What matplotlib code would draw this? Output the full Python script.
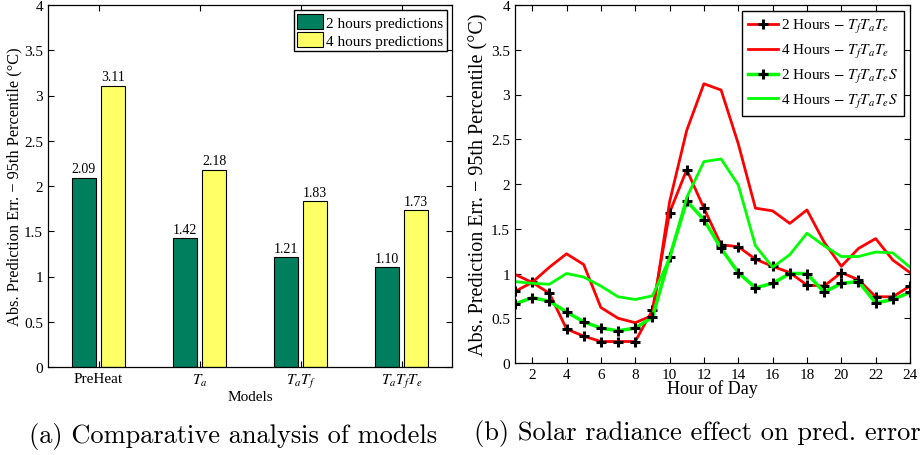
import matplotlib
matplotlib.use("Agg")
import matplotlib.pyplot as plt
import numpy as np

plt.rcParams["font.family"] = ["Liberation Serif", "DejaVu Serif"]
plt.rcParams["mathtext.fontset"] = "stix"
plt.rcParams["axes.unicode_minus"] = False

# (a) model comparison
models = ["PreHeat", r"$T_a$", r"$T_aT_f$", r"$T_aT_fT_e$"]
err_2h = [2.09, 1.42, 1.21, 1.10]
err_4h = [3.11, 2.18, 1.83, 1.73]

# (b) hourly error
hours = list(range(1, 25))
red_2h = [0.80, 0.90, 0.78, 0.38, 0.30, 0.24, 0.24, 0.24, 0.59, 1.68, 2.16, 1.73,
          1.32, 1.30, 1.16, 1.08, 1.01, 0.87, 0.86, 1.01, 0.93, 0.74, 0.74, 0.86]
red_4h = [0.99, 0.90, 1.07, 1.22, 1.10, 0.62, 0.50, 0.45, 0.53, 1.80, 2.60, 3.12,
          3.05, 2.45, 1.73, 1.70, 1.56, 1.71, 1.35, 1.08, 1.28, 1.39, 1.15, 1.01]
green_2h = [0.66, 0.73, 0.69, 0.57, 0.46, 0.39, 0.36, 0.39, 0.51, 1.18, 1.81, 1.60,
            1.28, 1.01, 0.84, 0.89, 1.00, 1.00, 0.79, 0.89, 0.91, 0.67, 0.71, 0.79]
green_4h = [0.91, 0.89, 0.88, 1.00, 0.96, 0.86, 0.74, 0.71, 0.75, 1.17, 1.85, 2.25,
            2.28, 1.99, 1.31, 1.07, 1.21, 1.45, 1.31, 1.19, 1.19, 1.24, 1.23, 1.07]

ylab = "Abs. Prediction Err. \u2212 95th Percentile (\u00b0C)"
yt = ["0", "0.5", "1", "1.5", "2", "2.5", "3", "3.5", "4"]

fig = plt.figure(figsize=(9.21, 4.56), dpi=100)

# ---- left: bar chart
ax1 = fig.add_axes([48 / 921, 1 - 368 / 456, 404 / 921, 362 / 456])
x = np.arange(1, len(models) + 1)
w = 0.235
b1 = ax1.bar(x - 0.145, err_2h, w, color="#007f5f", edgecolor="black", lw=0.8,
             label="2 hours predictions")
b2 = ax1.bar(x + 0.145, err_4h, w, color="#ffff66", edgecolor="black", lw=0.8,
             label="4 hours predictions")
for bars, vals in ((b1, err_2h), (b2, err_4h)):
    for r, v in zip(bars, vals):
        ax1.text(r.get_x() + r.get_width() / 2, v + 0.03, "%.2f" % v,
                 ha="center", va="bottom", fontsize=10)
ax1.set_xlim(0.5, 4.5)
ax1.set_ylim(0, 4)
ax1.set_xticks(x)
ax1.set_xticklabels(models, fontsize=11)
ax1.set_yticks(np.arange(0, 4.01, 0.5))
ax1.set_yticklabels(yt)
ax1.set_xlabel("Models", fontsize=11, labelpad=0)
ax1.set_ylabel(ylab, fontsize=11.8, labelpad=1)
ax1.tick_params(direction="in", top=True, right=True, labelsize=11, length=4)
ax1.legend(loc="upper right", fontsize=11, frameon=True, fancybox=False,
           edgecolor="black", framealpha=1, borderpad=0.25, handlelength=1.7,
           handleheight=1.1, handletextpad=0.15, labelspacing=0.15,
           borderaxespad=0.35)

# ---- right: hourly lines
ax2 = fig.add_axes([515 / 921, 1 - 364 / 456, 395 / 921, 358 / 456])
mk = dict(marker="+", mec="black", ms=7, mew=2.2)
ax2.plot(hours, red_2h, color="red", lw=2, label=r"2 Hours $-$ $T_fT_aT_e$", **mk)
ax2.plot(hours, red_4h, color="red", lw=2, label=r"4 Hours $-$ $T_fT_aT_e$")
ax2.plot(hours, green_2h, color="#00ff00", lw=2.5, label=r"2 Hours $-$ $T_fT_aT_eS$", **mk)
ax2.plot(hours, green_4h, color="#00ff00", lw=2, label=r"4 Hours $-$ $T_fT_aT_eS$")
ax2.set_xlim(1, 24)
ax2.set_ylim(0, 4)
ax2.set_xticks(range(2, 25, 2))
ax2.set_yticks(np.arange(0, 4.01, 0.5))
ax2.set_yticklabels(yt)
ax2.set_xlabel("Hour of Day", fontsize=13, labelpad=-1)
ax2.set_ylabel(ylab, fontsize=14.5, labelpad=2)
ax2.tick_params(direction="in", top=True, right=True, labelsize=11, length=4)
ax2.legend(loc="upper right", fontsize=11, frameon=True, fancybox=False,
           edgecolor="black", framealpha=1, borderpad=0.4, handlelength=2.0,
           handletextpad=0.15, labelspacing=0.45, borderaxespad=0.4)

for ax in (ax1, ax2):
    for s in ax.spines.values():
        s.set_linewidth(0.9)

fig.text(233 / 921, 1 - 437 / 456, "(a) Comparative analysis of models",
         ha="center", va="center", fontsize=19, family="cmr10")
fig.text(697 / 921, 1 - 434 / 456, "(b) Solar radiance effect on pred. error",
         ha="center", va="center", fontsize=19, family="cmr10")

fig.savefig("out.png", dpi=100)
